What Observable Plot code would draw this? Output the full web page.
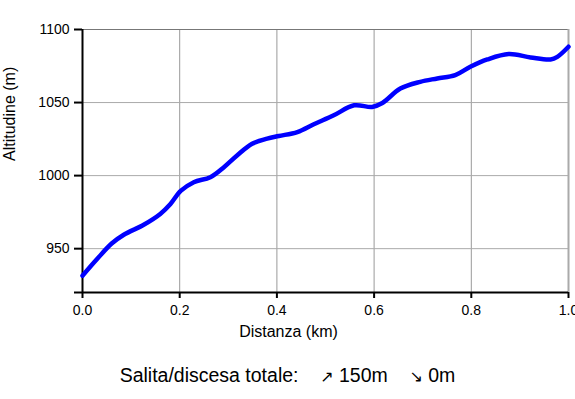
<!DOCTYPE html>
<html>
<head>
<meta charset="utf-8">
<script src="https://cdn.jsdelivr.net/npm/d3@7"></script>
<script src="https://cdn.jsdelivr.net/npm/@observablehq/plot@0.6"></script>
<style>
  html, body { margin: 0; padding: 0; background: #fff; }
  body { width: 575px; height: 399px; overflow: hidden; font-family: "Liberation Sans", Arial, sans-serif; }
  #caption { height: 47px; line-height: 46px; text-align: center; font-size: 19.5px; color: #000; white-space: pre; }
  #caption .arr { font-family: "DejaVu Sans", sans-serif; font-size: 16px; }
</style>
</head>
<body>
<div id="chart"></div>
<div id="caption"></div>
<script>
const dist = [0, 0.03, 0.06, 0.085, 0.126, 0.16, 0.181, 0.202, 0.229, 0.263, 0.291, 0.318, 0.349, 0.38, 0.404, 0.442, 0.476, 0.517, 0.559, 0.596, 0.617, 0.654, 0.695, 0.73, 0.767, 0.798, 0.833, 0.877, 0.922, 0.963, 0.977, 1.0];
const alt = [931.5, 942.9, 953.5, 959.5, 966.4, 973.8, 980.6, 989.5, 995.5, 998.9, 1005.8, 1013.8, 1021.8, 1025.3, 1027.1, 1029.8, 1035.1, 1041.3, 1048.1, 1047, 1049.7, 1059.6, 1064.2, 1066.5, 1068.8, 1074.5, 1079.5, 1083.2, 1080.9, 1079.5, 1081.3, 1088.2];
const xTicks = [0, 0.2, 0.4, 0.6, 0.8, 1.0];
const yTicks = [950, 1000, 1050, 1100];
const yMin = 920, yMax = 1100;
const xLabel = "Distanza (km)";
const yLabel = "Altitudine (m)";
const captionLabel = "Salita/discesa totale:";
const ascent = "150m";
const descent = "0m";

const data = dist.map((d, i) => ({d, a: alt[i]}));

const chart = Plot.plot({
  width: 575,
  height: 352,
  marginLeft: 82,
  marginRight: 7,
  marginTop: 29,
  marginBottom: 60,
  style: {fontFamily: '"Liberation Sans", Arial, sans-serif', fontSize: "14px", color: "#000", background: "#fff"},
  x: {domain: [0, 1]},
  y: {domain: [yMin, yMax]},
  marks: [
    Plot.gridX(xTicks, {stroke: "#999", strokeOpacity: 1, strokeWidth: 1}),
    Plot.gridY(yTicks, {stroke: "#aaa", strokeOpacity: 1, strokeWidth: 1}),
    Plot.ruleY([yMax], {stroke: "#777", strokeWidth: 1}),
    Plot.ruleX([1], {stroke: "#aaa", strokeWidth: 2}),
    Plot.axisX(xTicks, {tickSize: 6, tickPadding: 7, strokeWidth: 2, tickFormat: d3.format(".1f"), label: null, fontSize: 14}),
    Plot.axisY([yMin, ...yTicks], {tickSize: 8, tickPadding: 5, strokeWidth: 2, tickFormat: d => d === yMin ? "" : String(d), label: null, fontSize: 14}),
    Plot.ruleX([0], {stroke: "#000", strokeWidth: 2}),
    Plot.ruleY([yMin], {stroke: "#000", strokeWidth: 2}),
    Plot.line(data, {x: "d", y: "a", stroke: "#0000ff", strokeWidth: 4.5, curve: "catmull-rom"}),
    Plot.text([xLabel], {frameAnchor: "bottom", dy: 44, dx: -37, fontSize: 16, fill: "#000"}),
    Plot.text([yLabel], {frameAnchor: "left", rotate: -90, dx: -73, fontSize: 16, fill: "#000"})
  ]
});
document.getElementById("chart").appendChild(chart);

const cap = document.getElementById("caption");
cap.innerHTML = captionLabel + "    <span class=\"arr\">↗</span> " + ascent + "    <span class=\"arr\">↘</span> " + descent;
</script>
</body>
</html>
